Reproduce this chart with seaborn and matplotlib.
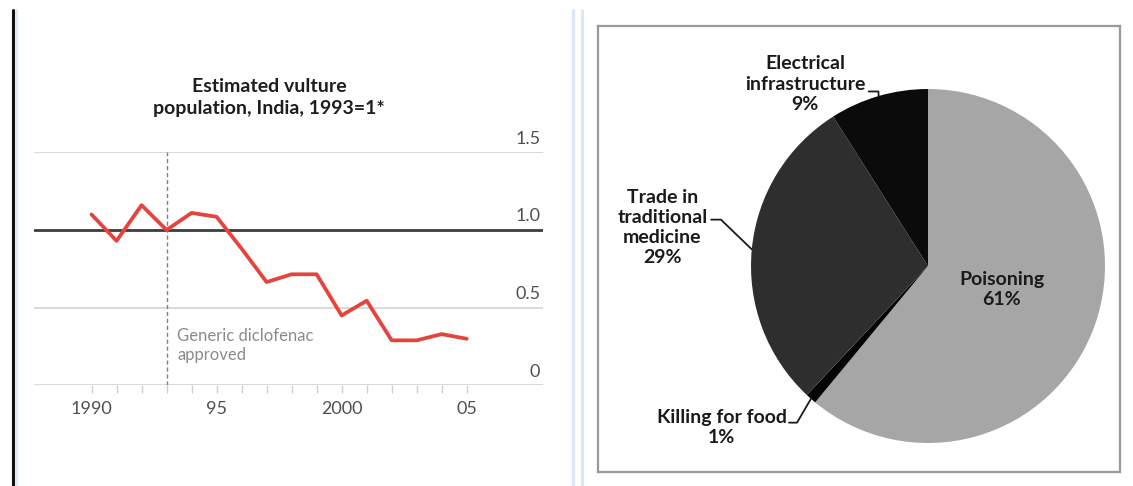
import numpy as np
import pandas as pd
import matplotlib
matplotlib.use("Agg")
import matplotlib.pyplot as plt
from matplotlib.lines import Line2D
import seaborn as sns

# ---------------- data ----------------
years = [1990, 1991, 1992, 1993, 1994, 1995, 1996, 1997, 1998, 1999,
         2000, 2001, 2002, 2003, 2004, 2005]
vulture_index = [1.10, 0.93, 1.16, 1.00, 1.11, 1.085, 0.88, 0.665, 0.715, 0.715,
                 0.45, 0.545, 0.29, 0.29, 0.33, 0.30]
y_ticks = [0, 0.5, 1.0, 1.5]
y_tick_labels = ["0", "0.5", "1.0", "1.5"]
x_major = [1990, 1995, 2000, 2005]
x_major_labels = ["1990", "95", "2000", "05"]
diclofenac_year = 1993
line_title = "Estimated vulture\npopulation, India, 1993=1*"
annot_text = "Generic diclofenac\napproved"

pie_labels = ["Poisoning", "Killing for food", "Trade in\ntraditional\nmedicine", "Electrical\ninfrastructure"]
pie_values = [61, 1, 29, 9]
pie_colors = ["#a6a6a6", "#050505", "#2e2e2e", "#0b0b0b"]

# ---------------- figure ----------------
W, H = 1133, 486
sns.set_theme(style="white")
plt.rcParams["font.family"] = ["Lato", "DejaVu Sans"]
fig = plt.figure(figsize=(W / 100, H / 100), dpi=100)
fig.patch.set_facecolor("white")

def fx(px):
    return px / W

def fy(py):
    return 1 - py / H

# ---- decorative frame lines of the screenshot ----
fig.add_artist(Line2D([fx(12.5), fx(12.5)], [0, fy(10)], color="#111111", lw=2.2))
fig.add_artist(Line2D([fx(15.5), fx(15.5)], [0, fy(10)], color="#dfeaf6", lw=2.0))
fig.add_artist(Line2D([fx(572.5), fx(572.5)], [0, fy(10)], color="#dce8f5", lw=2.2))
fig.add_artist(Line2D([fx(582), fx(582)], [0, fy(10)], color="#dce8f5", lw=2.2))

# ---------------- left: line chart ----------------
ax_l, ax_r = 34, 543
ax_top, ax_bot = 152.3, 385.4
ax = fig.add_axes([fx(ax_l), fy(ax_bot), fx(ax_r) - fx(ax_l), fy(ax_top) - fy(ax_bot)])
ax.set_facecolor("none")
ax.set_xlim(1987.7, 2008.05)
ax.set_ylim(0, 1.5)
for s in ax.spines.values():
    s.set_visible(False)

for v in y_ticks:
    if v == 1.0:
        ax.axhline(v, color="#3c3c3c", lw=2.0, zorder=1)
    else:
        ax.axhline(v, color="#d0d0d0", lw=1.1, zorder=1)

ax.axvline(diclofenac_year, ymin=0, ymax=1, color="#808080", lw=1.0,
           dashes=(3, 2), zorder=2)

df = pd.DataFrame({"year": years, "index": vulture_index})
sns.lineplot(data=df, x="year", y="index", ax=ax, color="#e5433b", lw=2.7,
             zorder=3)
ax.set_xlabel("")
ax.set_ylabel("")

ax.set_yticks([])
ax.set_xticks(x_major)
ax.set_xticklabels(x_major_labels)
ax.set_xticks(years, minor=True)
ax.tick_params(axis="x", which="both", direction="out", length=5.5, width=1.0,
               color="#cfcfcf", bottom=True)
ax.tick_params(axis="x", which="major", labelsize=13, labelcolor="#505050", pad=6)

for v, lab in zip(y_ticks, y_tick_labels):
    ax.annotate(lab, xy=(1.0, v), xycoords=("axes fraction", "data"),
                xytext=(-2, 4), textcoords="offset points", ha="right", va="bottom",
                fontsize=13, color="#505050", annotation_clip=False)

ax.text(diclofenac_year + 0.42, 0.255, annot_text, ha="left", va="center",
        fontsize=12, color="#8a8a8a", linespacing=1.25)

fig.text(fx(269), fy(97.5), line_title, ha="center", va="center",
         fontsize=14, fontweight="bold", color="#1e1e1e", linespacing=1.3)

# ---------------- right: pie chart ----------------
bx_l, bx_r, bx_t, bx_b = 598, 1120, 26, 472
cx, cy, R = 928, 266, 177
axp = fig.add_axes([fx(bx_l), fy(bx_b), fx(bx_r) - fx(bx_l), fy(bx_t) - fy(bx_b)])
wedges, _ = axp.pie(pie_values, colors=pie_colors, startangle=90,
                    counterclock=False, radius=1.0,
                    wedgeprops=dict(linewidth=0))
axp.set_aspect("auto")
axp.set_xlim((bx_l - cx) / R, (bx_r - cx) / R)
axp.set_ylim(-(bx_b - cy) / R, (cy - bx_t) / R)
axp.set_frame_on(True)
for s in axp.spines.values():
    s.set_visible(True)
    s.set_color("#9a9a9a")
    s.set_linewidth(1.6)
axp.set_xticks([])
axp.set_yticks([])

def mid_point(w):
    ang = np.deg2rad((w.theta1 + w.theta2) / 2)
    return np.cos(ang), np.sin(ang)

lab_font = dict(fontsize=14, fontweight="bold", color="#1a1a1a",
                ha="center", va="center", linespacing=1.22)

# Poisoning (inside)
axp.text(0.416, -0.133, f"{pie_labels[0]}\n{pie_values[0]}%", **lab_font)

# Killing for food
kx, ky = mid_point(wedges[1])
axp.text(-1.165, -0.915, f"{pie_labels[1]}\n{pie_values[1]}%", **lab_font)
axp.plot([-0.785, -0.740, kx], [-0.885, -0.885, ky], color="#1a1a1a", lw=1.3)

# Trade in traditional medicine
tx, ty = mid_point(wedges[2])
axp.text(-1.50, 0.2175, f"{pie_labels[2]}\n{pie_values[2]}%", **lab_font)
axp.plot([-1.225, -1.170, tx], [0.262, 0.262, ty], color="#1a1a1a", lw=1.3)

# Electrical infrastructure
ex, ey = mid_point(wedges[3])
axp.text(-0.695, 1.028, f"{pie_labels[3]}\n{pie_values[3]}%", **lab_font)
axp.plot([-0.335, -0.280, ex], [0.986, 0.986, ey], color="#1a1a1a", lw=1.3)

fig.savefig("out.png", dpi=100, facecolor="white")
